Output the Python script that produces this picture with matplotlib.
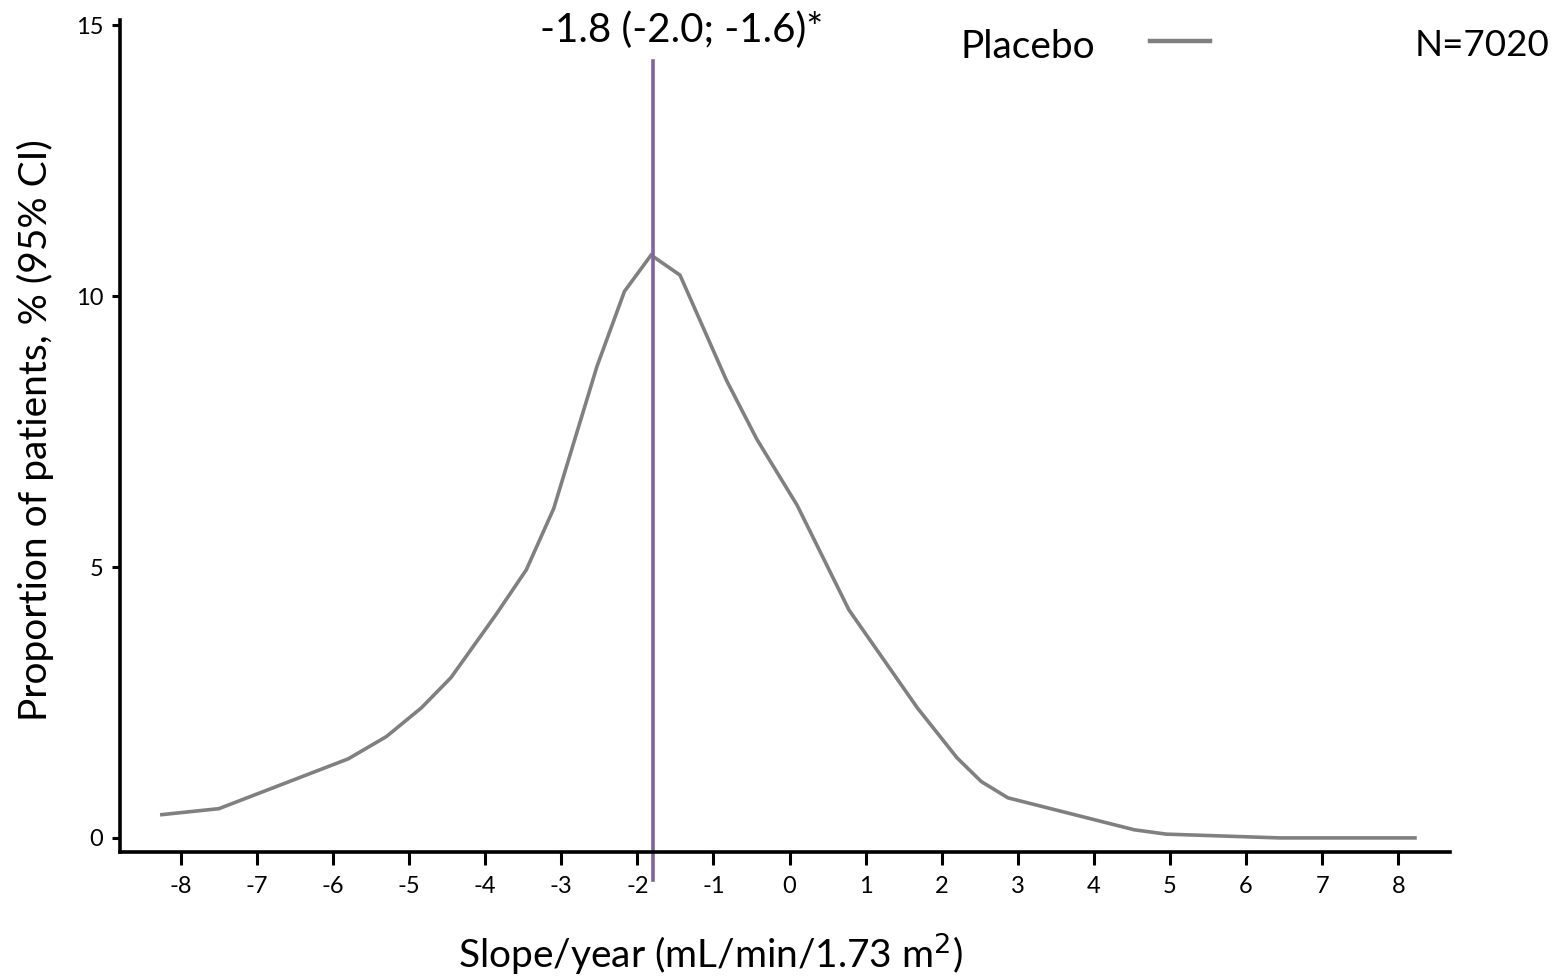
import matplotlib
matplotlib.use('Agg')
import matplotlib.pyplot as plt

plt.rcParams['font.family'] = ['Lato', 'DejaVu Sans']

# slope/year values and proportion of patients (%)
slope = [-8.25, -7.5, -5.8, -5.3, -4.84, -4.45, -3.86, -3.46, -3.1, -2.53, -2.17, -1.82,
         -1.44, -0.83, -0.43, 0.1, 0.78, 1.68, 2.2, 2.52, 2.87, 4.53, 4.95, 6.44, 8.22]
placebo = [0.43, 0.54, 1.46, 1.87, 2.4, 2.96, 4.12, 4.95, 6.08, 8.71, 10.09, 10.76,
           10.39, 8.45, 7.36, 6.14, 4.21, 2.4, 1.48, 1.04, 0.74, 0.15, 0.07, 0.0, 0.0]
median = -1.8
median_label = '-1.8 (-2.0; -1.6)*'
xticks = list(range(-8, 9))
yticks = [0, 5, 10, 15]

W, H = 1555, 976
fig = plt.figure(figsize=(W / 100, H / 100), dpi=100)
ax = fig.add_axes([120 / W, 1 - 852 / H, 1330 / W, 832 / H])

ax.plot(slope, placebo, color='#808080', lw=2.6, solid_joinstyle='miter')
ax.plot([median, median], [-0.78, 14.34], color='#8064a2', lw=2.6, clip_on=False)

ax.set_xlim(-8.8, 8.68)
ax.set_ylim(-0.26, 15.1)
ax.set_xticks(xticks)
ax.set_xticklabels([str(t) for t in xticks])
ax.set_yticks(yticks)
ax.set_yticklabels([str(t) for t in yticks])
ax.tick_params(axis='x', labelsize=17, width=2.2, length=9, pad=8)
ax.tick_params(axis='y', labelsize=17, width=2.2, length=6, pad=6)

for s in ['top', 'right']:
    ax.spines[s].set_visible(False)
ax.spines['left'].set_linewidth(2.6)
ax.spines['bottom'].set_linewidth(2.6)

ax.set_xlabel('Slope/year (mL/min/1.73 m$^2$)', fontsize=28)
ax.xaxis.set_label_coords((710 - 120) / 1330, (852 - 930) / 832)
ax.set_ylabel('Proportion of patients, % (95% CI)', fontsize=28)
ax.yaxis.set_label_coords((54 - 120) / 1330, (852 - 430) / 832)

fig.text(682 / W, 1 - 30 / H, median_label, ha='center', va='center', fontsize=29)
fig.text(960 / W, 1 - 47 / H, 'Placebo', ha='left', va='center', fontsize=28)
fig.add_artist(plt.Line2D([1150 / W, 1210 / W], [1 - 41 / H, 1 - 41 / H],
                          color='#808080', lw=3.2))
fig.text(1415 / W, 1 - 45 / H, 'N=7020', ha='left', va='center', fontsize=26.5)

fig.savefig('out.png', dpi=100)
